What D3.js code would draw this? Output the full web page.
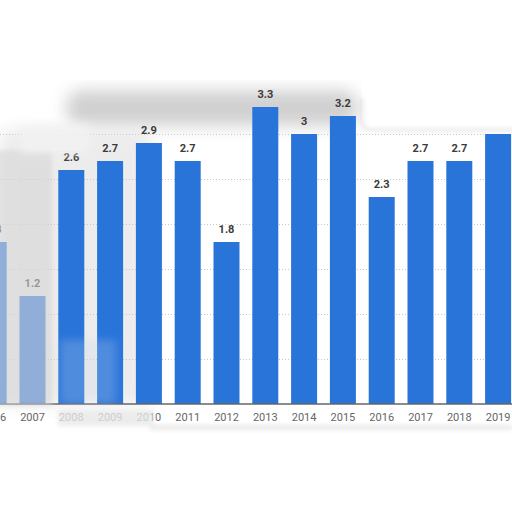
<!DOCTYPE html>
<html>
<head>
<meta charset="utf-8">
<script src="https://cdn.jsdelivr.net/npm/d3@7/dist/d3.min.js"></script>
<style>
  html, body { margin: 0; padding: 0; background: #fff; }
  svg { display: block; }
</style>
</head>
<body>
<svg id="chart" width="512" height="512"></svg>
<script>
const years  = ["2006","2007","2008","2009","2010","2011","2012","2013","2014","2015","2016","2017","2018","2019"];
const values = [1.8, 1.2, 2.6, 2.7, 2.9, 2.7, 1.8, 3.3, 3, 3.2, 2.3, 2.7, 2.7, 3];
const gridTicks = [0.5, 1, 1.5, 2, 2.5, 3];

const svg = d3.select("#chart");
const W = 512, H = 512;
svg.append("rect").attr("width", W).attr("height", H).attr("fill", "#fff");

const defs = svg.append("defs");
[["blur8", 8], ["blur4", 4], ["blur2", 2]].forEach(([id, s]) => {
  defs.append("filter").attr("id", id).attr("x", "-50%").attr("y", "-50%").attr("width", "200%").attr("height", "200%")
    .append("feGaussianBlur").attr("stdDeviation", s);
});

const x = d3.scaleBand().domain(years).range([-25.7, 517.5]).paddingInner(0.33).paddingOuter(0.165);
const y = d3.scaleLinear().domain([0, 3.5]).range([404, 89]);

// background haze (behind the marks)
const under = svg.append("g").attr("pointer-events", "none");
under.append("rect").attr("x", 66).attr("y", 90).attr("width", 292).attr("height", 36).attr("rx", 16)
  .attr("fill", "#bdbdbd").attr("opacity", 0.7).attr("filter", "url(#blur8)");
under.append("rect").attr("x", 0).attr("y", 130).attr("width", 150).attr("height", 275)
  .attr("fill", "#e4e4e4").attr("opacity", 0.7).attr("filter", "url(#blur8)");

// gridlines
svg.append("g").selectAll("line").data(gridTicks).join("line")
  .attr("x1", 0).attr("x2", W)
  .attr("y1", d => Math.round(y(d)) + 0.5).attr("y2", d => Math.round(y(d)) + 0.5)
  .attr("stroke", "#c8c8c8").attr("stroke-width", 1).attr("stroke-dasharray", "1,2");

// bars
svg.append("g").selectAll("rect").data(values).join("rect")
  .attr("x", (d, i) => x(years[i]))
  .attr("width", x.bandwidth())
  .attr("y", d => y(d))
  .attr("height", d => y(0) - y(d))
  .attr("fill", "#2874d9");

// value labels
svg.append("g").selectAll("text").data(values).join("text")
  .attr("x", (d, i) => x(years[i]) + x.bandwidth() / 2)
  .attr("y", d => y(d) - 9)
  .attr("text-anchor", "middle")
  .attr("font-family", "Roboto, 'Open Sans', sans-serif")
  .attr("font-size", 11).attr("font-weight", "bold")
  .attr("fill", "#3a3a3a")
  .text(d => d);

// x axis
const xAxis = d3.axisBottom(x).tickSize(0).tickPadding(9);
const gx = svg.append("g").attr("transform", `translate(0,${y(0)})`).call(xAxis);
gx.select(".domain").attr("stroke", "#666").attr("stroke-width", 1.5).attr("d", `M0,0H${W}`);
gx.selectAll("text")
  .attr("font-family", "Roboto, 'Open Sans', sans-serif")
  .attr("font-size", 11).attr("fill", "#666");

// foreground haze (obscured regions of the source image)
const haze = svg.append("g").attr("pointer-events", "none");
haze.append("rect").attr("x", -20).attr("y", -20).attr("width", 560).attr("height", 100).attr("fill", "#fff");
haze.append("rect").attr("x", -10).attr("y", 150).attr("width", 62).attr("height", 256)
  .attr("fill", "#d6d6d6").attr("opacity", 0.6).attr("filter", "url(#blur2)");
haze.append("rect").attr("x", 20).attr("y", 125).attr("width", 70).attr("height", 28)
  .attr("fill", "#f2f2f2").attr("opacity", 0.9).attr("filter", "url(#blur4)");
haze.append("rect").attr("x", 60).attr("y", 340).attr("width", 56).attr("height", 64)
  .attr("fill", "#c9d6ea").attr("opacity", 0.25).attr("filter", "url(#blur4)");
haze.append("rect").attr("x", 58).attr("y", 410).attr("width", 96).attr("height", 16)
  .attr("fill", "#e8e8e8").attr("opacity", 0.8).attr("filter", "url(#blur2)");
haze.append("rect").attr("x", 150).attr("y", 425).attr("width", 362).attr("height", 5)
  .attr("fill", "#d0d0d0").attr("opacity", 0.45).attr("filter", "url(#blur2)");
haze.append("path").attr("d", "M362,80 L362,118 Q362,130 372,130 L540,130 L540,80 Z")
  .attr("fill", "#fff");
haze.append("path").attr("d", "M362,98 L362,118 Q362,130 372,130 L540,130")
  .attr("fill", "none").attr("stroke", "#aaa").attr("stroke-width", 1.5).attr("opacity", 0.55).attr("filter", "url(#blur2)");
haze.append("rect").attr("x", -20).attr("y", 433).attr("width", 560).attr("height", 100).attr("fill", "#fff");
</script>
</body>
</html>
